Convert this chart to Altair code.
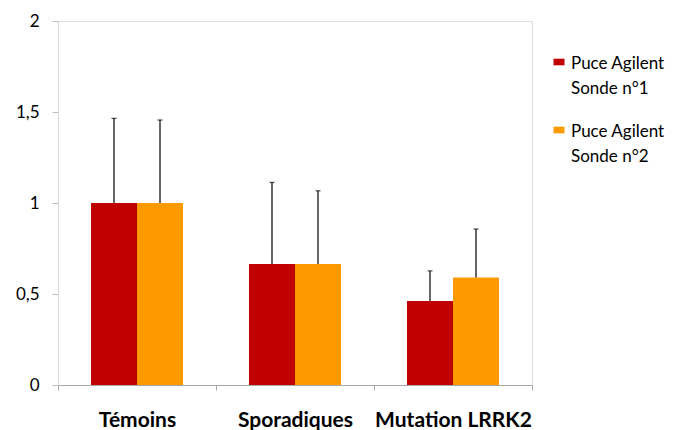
import altair as alt
import pandas as pd

categories = ["Témoins", "Sporadiques", "Mutation LRRK2"]
series = ["Puce Agilent Sonde n°1", "Puce Agilent Sonde n°2"]
legend_line1 = ["Puce Agilent", "Puce Agilent"]
legend_line2 = ["Sonde n°1", "Sonde n°2"]
values_s1 = [1.0, 0.665, 0.462]
values_s2 = [1.0, 0.665, 0.59]
err_s1 = [0.465, 0.448, 0.165]
err_s2 = [0.456, 0.402, 0.267]
colors = ["#C00000", "#FF9900"]

rows = []
for i, c in enumerate(categories):
    rows.append({"cat": c, "serie": series[0], "val": values_s1[i], "hi": values_s1[i] + err_s1[i]})
    rows.append({"cat": c, "serie": series[1], "val": values_s2[i], "hi": values_s2[i] + err_s2[i]})
df = pd.DataFrame(rows)

leg_df = pd.DataFrame({"serie": series,
                       "lines": [[a, b] for a, b in zip(legend_line1, legend_line2)]})

FONT = "Lato"

x = alt.X("cat:N", sort=categories, title=None,
          scale=alt.Scale(paddingInner=0, paddingOuter=0),
          axis=alt.Axis(labelAngle=0, labelFontWeight="bold", labelFontSize=21,
                        labelColor="black", labelPadding=19, tickBand="extent",
                        domainColor="#A6A6A6", tickColor="#A6A6A6", tickSize=5,
                        labelFont=FONT))
xo = alt.XOffset("serie:N", sort=series,
                 scale=alt.Scale(paddingInner=0, paddingOuter=0.717))
yscale = alt.Scale(domain=[0, 2], nice=False)
color = alt.Color("serie:N", sort=series,
                  scale=alt.Scale(domain=series, range=colors), legend=None)

base = alt.Chart(df)

bars = base.mark_bar().encode(
    x=x, xOffset=xo,
    y=alt.Y("val:Q", title=None, scale=yscale,
            axis=alt.Axis(values=[0, 0.5, 1, 1.5, 2], grid=False,
                          labelExpr="replace(toString(datum.value), '.', ',')",
                          labelFontSize=17, labelColor="black", labelPadding=13,
                          domainColor="#D9D9D9", tickColor="#BFBFBF", tickSize=6,
                          labelFont=FONT)),
    color=color,
)

rules = base.mark_rule(color="black", strokeWidth=1.2).encode(
    x=x, xOffset=xo, y=alt.Y("val:Q", scale=yscale), y2="hi:Q")

caps = base.mark_tick(color="black", thickness=1.2, size=5, orient="horizontal").encode(
    x=x, xOffset=xo, y=alt.Y("hi:Q", scale=yscale))

main = alt.layer(bars, rules, caps)

ly = alt.Y("serie:N", sort=series, axis=None,
           scale=alt.Scale(type="point", range=[41, 109], padding=0))
leg_base = alt.Chart(leg_df)
leg_sq = leg_base.mark_point(shape="M-1,-0.6L1,-0.6L1,0.6L-1,0.6Z", filled=True,
                             size=121, opacity=1, strokeWidth=0).encode(
    x=alt.value(501), y=ly, color=color)
leg_txt = leg_base.mark_text(align="left", baseline="alphabetic", dy=7, lineHeight=25,
                             fontSize=17, font=FONT, color="black").encode(
    x=alt.value(513), y=ly, text="lines")
legend = alt.layer(leg_sq, leg_txt)

chart = alt.layer(main, legend).resolve_scale(y="independent").properties(
    width=474, height=364,
    autosize=alt.AutoSizeParams(type="none"),
    padding={"left": 50, "top": 13, "right": 137, "bottom": 45},
).configure_view(strokeWidth=0).configure(font=FONT)

chart.save("out.html", embed_options={"renderer": "svg", "actions": False})
